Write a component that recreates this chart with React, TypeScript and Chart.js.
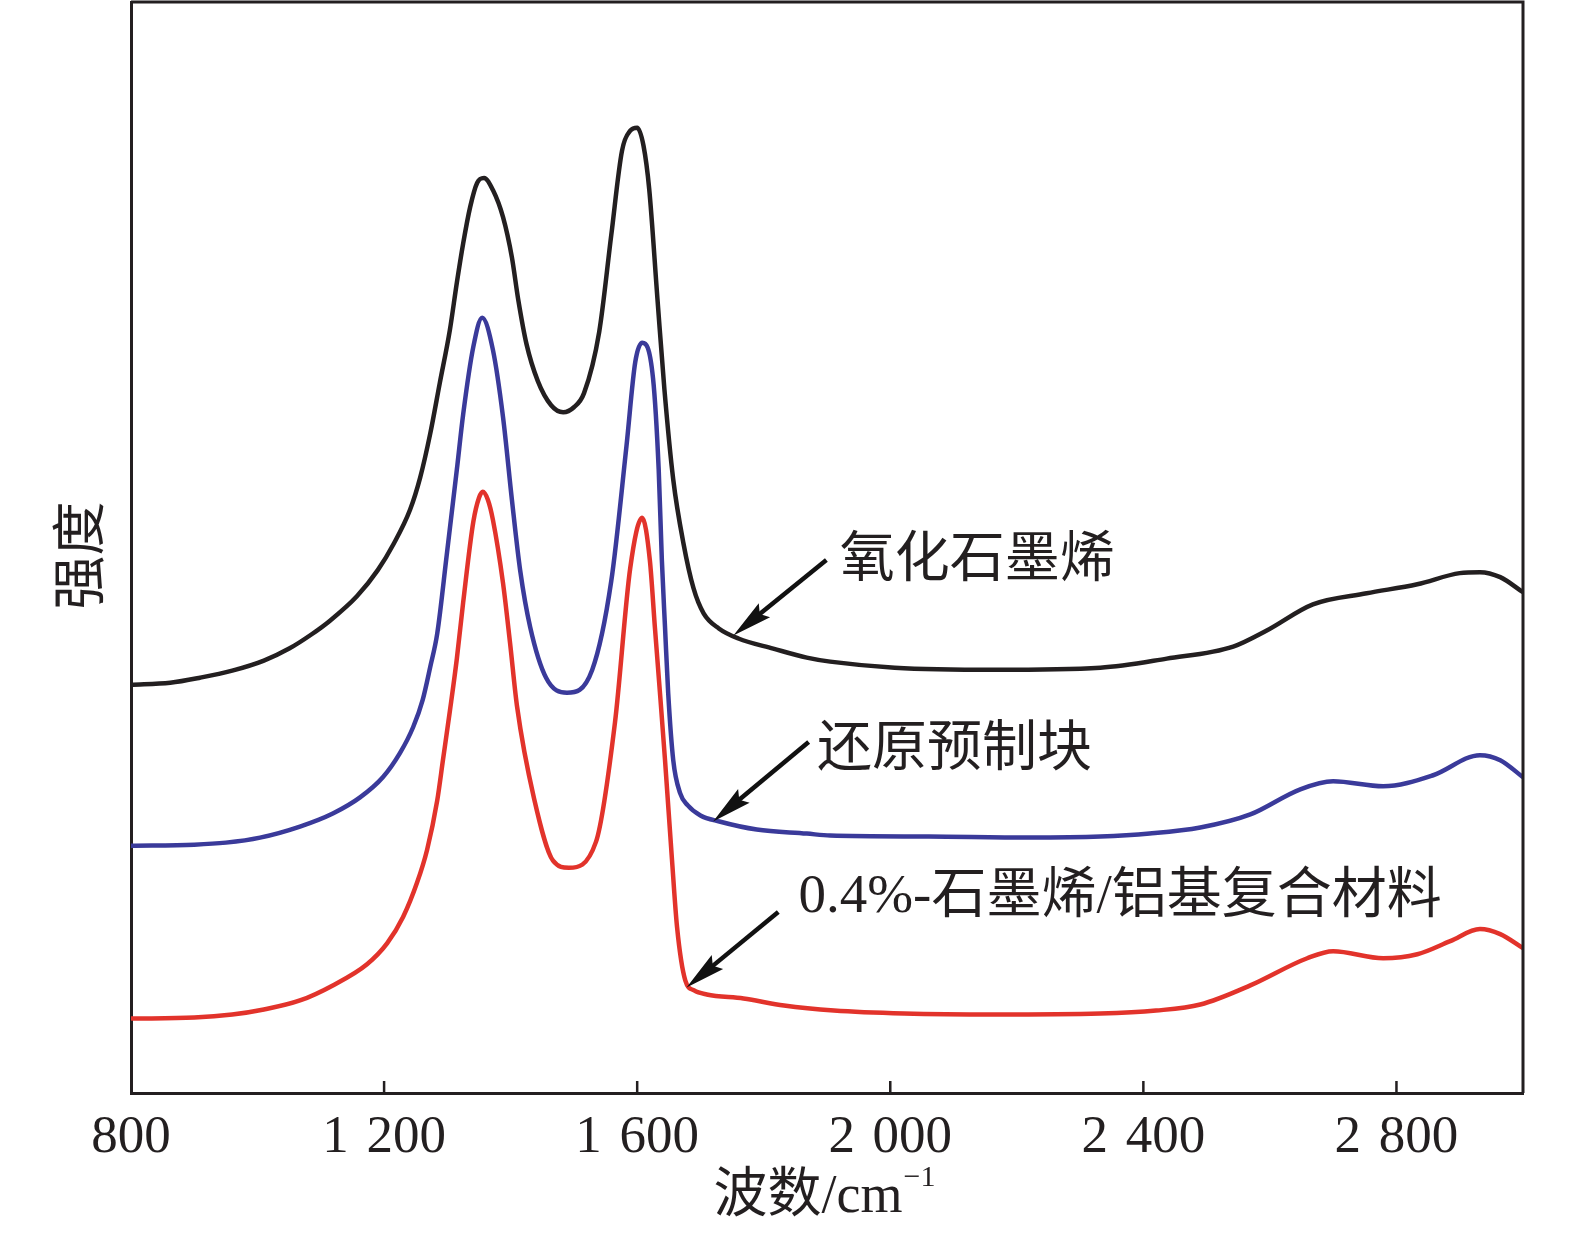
import React, { useEffect, useRef } from "react";
import { Chart, registerables } from "chart.js";

Chart.register(...registerables);

// Raman spectra: wavenumber (cm^-1) vs intensity (a.u.)
const goX = [800, 862, 909, 960, 1010, 1050, 1085, 1115, 1157, 1190, 1215, 1241, 1257, 1273, 1288, 1304, 1315, 1325, 1336, 1347, 1358, 1372, 1388, 1402, 1412, 1425, 1443, 1464, 1483, 1500, 1516, 1540, 1559, 1576, 1589, 1600, 1610, 1619, 1632, 1643, 1657, 1673, 1689, 1705, 1729, 1760, 1815, 1868, 1905, 2007, 2166, 2332, 2437, 2542, 2595, 2668, 2753, 2833, 2900, 2932, 2964, 3000];
const goY = [40.6, 40.8, 41.3, 42.0, 43.0, 44.2, 45.6, 47.0, 49.4, 52.0, 54.6, 58.0, 61.2, 65.6, 70.6, 75.9, 80.6, 84.5, 88.1, 90.5, 91.0, 89.8, 87.1, 83.1, 78.9, 74.5, 70.8, 68.4, 67.7, 68.2, 69.6, 75.7, 85.3, 93.7, 95.7, 96.0, 94.2, 89.9, 79.0, 70.0, 61.0, 54.7, 50.2, 47.7, 46.2, 45.2, 44.2, 43.3, 42.9, 42.3, 42.1, 42.3, 43.2, 44.4, 46.0, 48.6, 49.7, 50.6, 51.7, 51.8, 51.3, 49.8];

const rpX = [800, 900, 950, 1004, 1067, 1119, 1162, 1198, 1225, 1246, 1261, 1273, 1284, 1299, 1315, 1325, 1341, 1355, 1372, 1388, 1402, 1415, 1431, 1456, 1489, 1529, 1559, 1583, 1597, 1608, 1625, 1634, 1639, 1644, 1649, 1657, 1668, 1680, 1700, 1730, 1789, 1868, 1905, 2061, 2219, 2332, 2410, 2490, 2569, 2648, 2700, 2779, 2858, 2932, 2964, 3000];
const rpY = [24.6, 24.7, 24.9, 25.4, 26.5, 27.8, 29.4, 31.4, 33.8, 36.4, 39.1, 42.4, 45.7, 53.5, 62.0, 67.5, 74.2, 77.1, 73.9, 67.2, 59.0, 52.0, 46.3, 41.3, 39.8, 42.1, 50.9, 64.3, 72.7, 74.6, 71.1, 62.0, 53.0, 46.3, 39.8, 33.1, 29.8, 28.6, 27.6, 27.0, 26.2, 25.8, 25.6, 25.5, 25.4, 25.5, 25.8, 26.4, 27.7, 30.2, 31.0, 30.5, 31.6, 33.6, 33.1, 31.4];

const gaX = [800, 900, 960, 1010, 1067, 1119, 1173, 1205, 1230, 1252, 1268, 1284, 1293, 1304, 1315, 1325, 1341, 1350, 1356, 1364, 1372, 1388, 1399, 1410, 1437, 1467, 1492, 1535, 1565, 1589, 1608, 1620, 1628, 1636, 1644, 1655, 1663, 1676, 1690, 1710, 1768, 1832, 1911, 2022, 2166, 2332, 2420, 2490, 2569, 2659, 2700, 2779, 2833, 2885, 2932, 2964, 3000];
const gaY = [7.4, 7.5, 7.8, 8.3, 9.2, 10.7, 12.8, 14.9, 17.5, 20.9, 24.2, 29.1, 33.1, 38.0, 43.2, 48.8, 56.8, 59.2, 59.8, 59.0, 57.0, 50.7, 44.8, 38.5, 29.3, 23.1, 22.4, 25.0, 36.9, 52.2, 57.2, 53.0, 46.3, 39.8, 33.1, 23.2, 16.5, 11.2, 10.2, 9.8, 9.4, 8.7, 8.2, 7.9, 7.8, 7.9, 8.2, 8.8, 10.7, 13.4, 14.1, 13.4, 13.8, 15.1, 16.3, 15.8, 14.4];

const seriesLabels = ["氧化石墨烯", "还原预制块", "0.4%-石墨烯/铝基复合材料"];
const seriesColors = ["#231f20", "#3a3a9a", "#e2332b"];

const xTickValues = [800, 1200, 1600, 2000, 2400, 2800];
const xMin = 800;
const xMax = 3000;
const yMin = 0;
const yMax = 108.5;

// annotation arrows: start and tip in data units
const arrowStartX = [1899, 1871, 1823];
const arrowStartY = [53.0, 34.9, 18.0];
const arrowTipX = [1752, 1720, 1678];
const arrowTipY = [45.5, 27.0, 10.5];
// annotation text anchors (left, middle)
const labelX = [1920, 1884, 1855];
const labelY = [52.9, 34.1, 19.4];

const xTitleMain = "波数/cm";
const xTitleSup = "−1";
const yTitle = "强度";

const INK = "#231f20";
const FONT = '"Liberation Serif", "Noto Sans CJK SC", serif';

function fmtTick(v: number): string {
  if (v >= 1000) {
    const th = Math.floor(v / 1000);
    const rest = String(v % 1000).padStart(3, "0");
    return th + "\u2004" + rest;
  }
  return String(v);
}

function toPts(xs: number[], ys: number[]) {
  return xs.map((x, i) => ({ x, y: ys[i] }));
}

const decorPlugin = {
  id: "decor",
  afterDatasetsDraw(chart: any) {
    const { ctx, chartArea, scales } = chart;
    const xs = scales.x;
    const ys = scales.y;
    ctx.save();
    // box top and right
    ctx.strokeStyle = INK;
    ctx.lineWidth = 3;
    ctx.beginPath();
    ctx.moveTo(chartArea.left, chartArea.top);
    ctx.lineTo(chartArea.right, chartArea.top);
    ctx.lineTo(chartArea.right, chartArea.bottom);
    ctx.stroke();
    // inward ticks
    ctx.lineWidth = 2.5;
    xTickValues.forEach((v) => {
      if (v === xMin) return;
      const px = xs.getPixelForValue(v);
      ctx.beginPath();
      ctx.moveTo(px, chartArea.bottom);
      ctx.lineTo(px, chartArea.bottom - 12);
      ctx.stroke();
    });
    // arrows
    for (let i = 0; i < arrowStartX.length; i++) {
      const sx = xs.getPixelForValue(arrowStartX[i]);
      const sy = ys.getPixelForValue(arrowStartY[i]);
      const tx = xs.getPixelForValue(arrowTipX[i]);
      const ty = ys.getPixelForValue(arrowTipY[i]);
      const ang = Math.atan2(ty - sy, tx - sx);
      const L = 40, W = 9, N = 30;
      const ux = Math.cos(ang), uy = Math.sin(ang);
      const bx = tx - ux * L, by = ty - uy * L;
      const nx = tx - ux * N, ny = ty - uy * N;
      ctx.strokeStyle = "#111";
      ctx.lineWidth = 4.5;
      ctx.beginPath();
      ctx.moveTo(sx, sy);
      ctx.lineTo(nx, ny);
      ctx.stroke();
      ctx.fillStyle = "#111";
      ctx.beginPath();
      ctx.moveTo(tx, ty);
      ctx.lineTo(bx - uy * W, by + ux * W);
      ctx.lineTo(tx - ux * (L - 6), ty - uy * (L - 6));
      ctx.lineTo(bx + uy * W, by - ux * W);
      ctx.closePath();
      ctx.fill();
    }
    // labels
    ctx.fillStyle = INK;
    ctx.font = "55px " + FONT;
    ctx.textAlign = "left";
    ctx.textBaseline = "middle";
    for (let i = 0; i < seriesLabels.length; i++) {
      ctx.fillText(seriesLabels[i], xs.getPixelForValue(labelX[i]), ys.getPixelForValue(labelY[i]));
    }
    // x title
    ctx.font = "54px " + FONT;
    const wMain = ctx.measureText(xTitleMain).width;
    ctx.font = "30px " + FONT;
    const wSup = ctx.measureText(xTitleSup).width;
    const cx = (chartArea.left + chartArea.right) / 2 - 3;
    const startX = cx - (wMain + wSup) / 2;
    const ty = chartArea.bottom + 105;
    ctx.font = "54px " + FONT;
    ctx.textBaseline = "middle";
    ctx.fillText(xTitleMain, startX, ty);
    ctx.font = "30px " + FONT;
    ctx.fillText(xTitleSup, startX + wMain + 1, ty - 20);
    // y title
    ctx.save();
    ctx.translate(chartArea.left - 46, (chartArea.top + chartArea.bottom) / 2 + 8);
    ctx.rotate(-Math.PI / 2);
    ctx.font = "54px " + FONT;
    ctx.textAlign = "center";
    ctx.textBaseline = "middle";
    ctx.fillText(yTitle, 0, 0);
    ctx.restore();
    ctx.restore();
  },
};

export default function App() {
  const ref = useRef<HTMLCanvasElement | null>(null);
  useEffect(() => {
    document.body.style.margin = "0";
    const canvas = ref.current;
    if (!canvas) return;
    const xsData = [goX, rpX, gaX];
    const ysData = [goY, rpY, gaY];
    const chart = new Chart(canvas, {
      type: "line",
      data: {
        datasets: seriesLabels.map((label, i) => ({
          label,
          data: toPts(xsData[i], ysData[i]),
          borderColor: seriesColors[i],
          backgroundColor: seriesColors[i],
          borderWidth: 4.5,
          pointRadius: 0,
          fill: false,
          cubicInterpolationMode: "monotone" as const,
        })),
      },
      options: {
        animation: false,
        responsive: true,
        maintainAspectRatio: false,
        layout: { padding: { top: 2, right: 52, left: 0, bottom: 0 } },
        plugins: { legend: { display: false }, tooltip: { enabled: false } },
        scales: {
          x: {
            type: "linear",
            min: xMin,
            max: xMax,
            afterBuildTicks: (s: any) => {
              s.ticks = xTickValues.map((v) => ({ value: v }));
            },
            afterFit: (s: any) => {
              s.height = 141;
            },
            grid: { display: false, drawTicks: false },
            border: { display: true, color: INK, width: 3 },
            ticks: {
              color: INK,
              font: { family: FONT, size: 53 },
              padding: 13,
              maxRotation: 0,
              autoSkip: false,
              callback: (v: any) => fmtTick(Number(v)),
            },
          },
          y: {
            type: "linear",
            min: yMin,
            max: yMax,
            afterFit: (s: any) => {
              s.width = 131;
            },
            grid: { display: false, drawTicks: false },
            border: { display: true, color: INK, width: 3 },
            ticks: { display: false },
          },
        },
      },
      plugins: [decorPlugin],
    });
    return () => chart.destroy();
  }, []);
  return (
    <div style={{ position: "fixed", left: 0, top: 0, width: 1575, height: 1234, background: "#fff" }}>
      <canvas ref={ref} />
    </div>
  );
}
